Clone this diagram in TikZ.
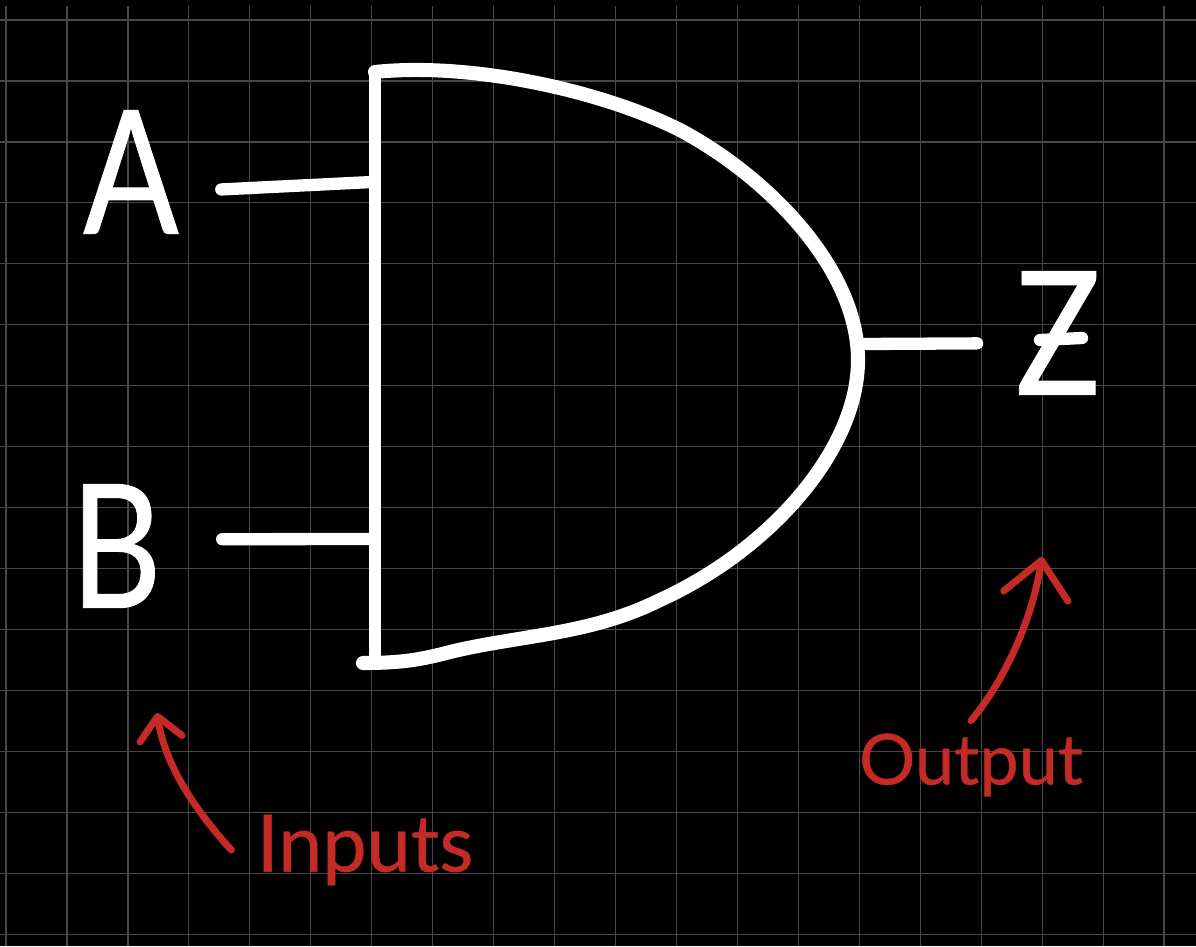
\documentclass[tikz,border=0pt]{standalone}
\usepackage{fontspec}
\setmainfont{Lato}
\newfontfamily\notefont[FakeBold=0.6]{Lato}
\usepackage{tikz}
\usetikzlibrary{arrows.meta}
\definecolor{gridgray}{HTML}{474747}
\definecolor{notered}{HTML}{C42A26}
\tikzset{
   gridline/.style={draw=gridgray, line width=0.7pt},
   gate/.style={draw=white, line width=7.2pt, line cap=round, line join=round},
   gate curve/.style={gate, line width=8pt},
   wire/.style={draw=white, line width=7pt, line cap=round},
   inlabel/.style={text=white, font=\notefont\fontsize{98}{98}\selectfont, inner ysep=0pt, xscale=0.82},
   note/.style={text=notered, inner ysep=0pt},
   notearrow/.style={draw=notered, line width=4pt, line cap=round},
    }
\begin{document}
\begin{tikzpicture}[x=0.02cm,y=-0.02cm]
       \useasboundingbox (0,0) rectangle (1196,946);
       \fill[black] (0,0) rectangle (1196,946);
       \foreach \i in {0,...,19}
          \draw[gridline] ({6+60.95*\i},6)to({6+60.95*\i},946);
       \foreach \i in {0,...,15}
          \draw[gridline] (0,{20+60.95*\i})to(1196,{20+60.95*\i});
       % the gate
       \draw[gate] (375,72)to(375,662);
       \draw[gate curve] (375,72) .. controls (470,62) and (600,90) .. (680,130)
          .. controls (770,178) and (858,270) .. (858,360)
          .. controls (858,450) and (770,550) .. (660,600)
          .. controls (590,635) and (520,635) .. (450,652)
          .. controls (420,660) and (400,663) .. (363,663);
       \coordinate (pinA) at (372,182);
       \coordinate (pinB) at (372,539);
       \coordinate (pinZ) at (862,344);
       \node[inlabel, inner xsep=1.03cm] (A) at (131,172) {A};
       \node[inlabel, inner xsep=1.47cm] (B) at (116,546) {B};
       \node[inlabel, inner xsep=0.93cm] (Z) at (1058,333) {Z};
       \draw[wire] (A.-9)to(pinA);
       \draw[wire] (B.3)to(pinB);
       \draw[wire] (pinZ)to(Z.186);
       \draw[wire] (1040,340)to(1082,338);
       % the notes
       \node[note, font=\notefont\fontsize{45}{45}\selectfont, inner xsep=0.5cm] (inputs) at (365,850) {Inputs};
       \node[note, font=\notefont\fontsize{40}{40}\selectfont, inner ysep=0.25cm] (output) at (971,765) {Output};
       \coordinate (inputsTip) at (157,713);
       \coordinate (outputTip) at (1042,557);
       \draw[notearrow, -{Straight Barb[length=0.45cm, width=0.85cm, round]}] (inputs.west) .. controls (195,810) and (165,765) .. (inputsTip);
       \draw[notearrow, -{Straight Barb[length=0.72cm, width=1.3cm, round]}] (output.north) .. controls (1005,680) and (1032,620) .. (outputTip);
   \end{tikzpicture}
\end{document}
